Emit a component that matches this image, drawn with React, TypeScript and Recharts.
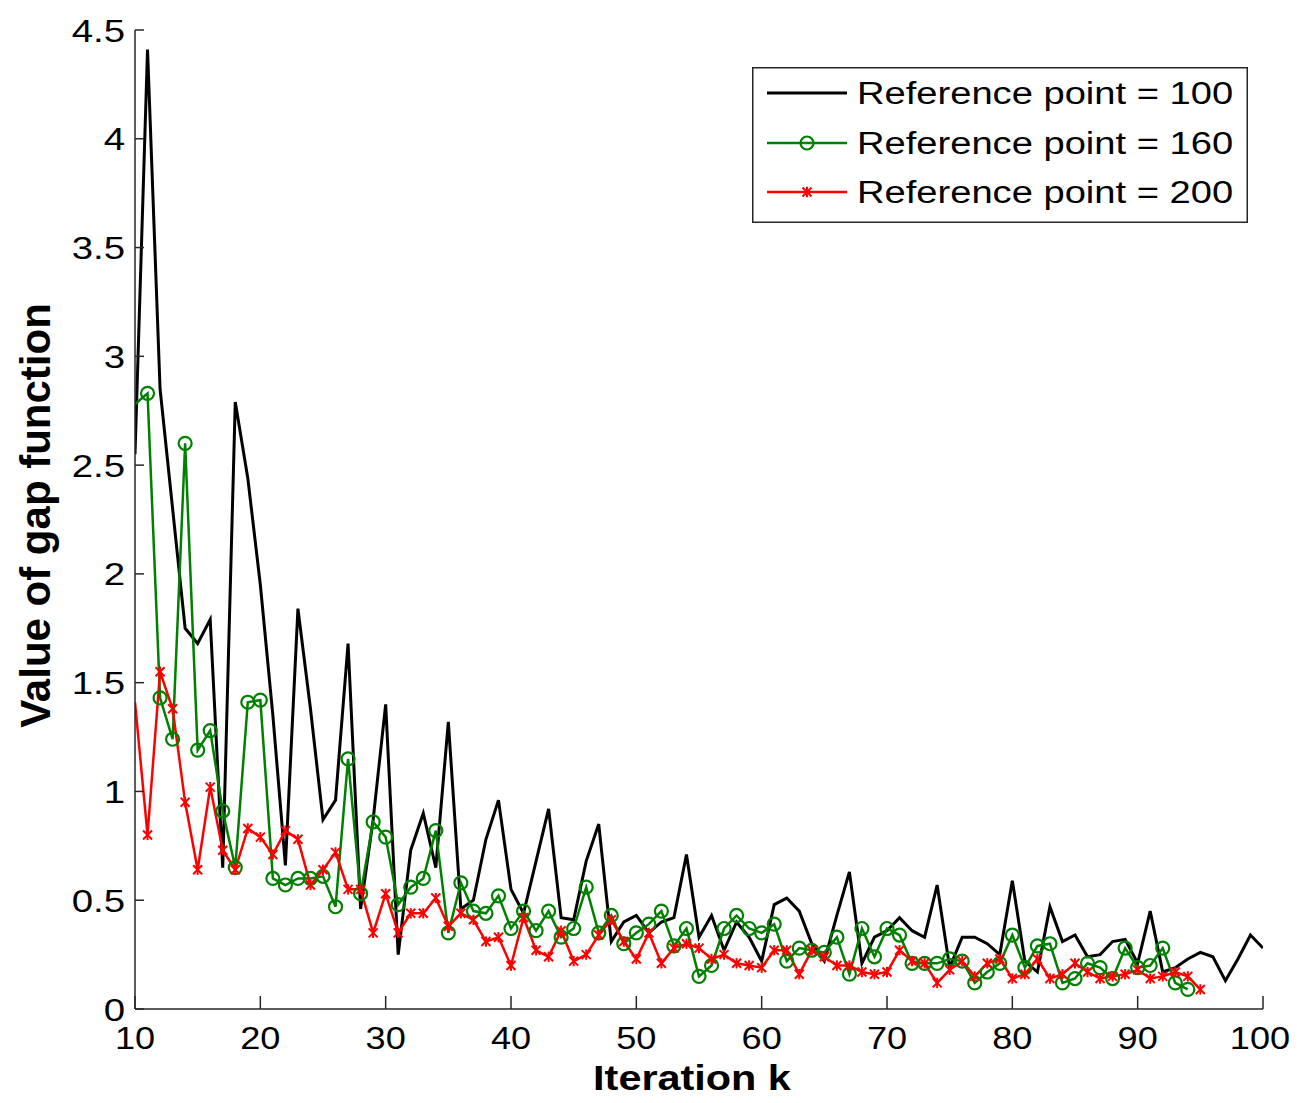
import React from 'react';
import { LineChart, Line, XAxis, YAxis, Legend } from 'recharts';

const iterations = [
  10, 11, 12, 13, 14, 15, 16, 17, 18, 19,
  20, 21, 22, 23, 24, 25, 26, 27, 28, 29,
  30, 31, 32, 33, 34, 35, 36, 37, 38, 39,
  40, 41, 42, 43, 44, 45, 46, 47, 48, 49,
  50, 51, 52, 53, 54, 55, 56, 57, 58, 59,
  60, 61, 62, 63, 64, 65, 66, 67, 68, 69,
  70, 71, 72, 73, 74, 75, 76, 77, 78, 79,
  80, 81, 82, 83, 84, 85, 86, 87, 88, 89,
  90, 91, 92, 93, 94, 95, 96, 97, 98, 99,
  100,
];

// Reference point = 100 (black)
const gap100 = [
  2.55, 4.41, 2.85, 2.30, 1.75, 1.68, 1.79, 0.65, 2.79, 2.44,
  1.95, 1.35, 0.66, 1.84, 1.38, 0.87, 0.96, 1.68, 0.46, 0.87,
  1.40, 0.25, 0.73, 0.90, 0.65, 1.32, 0.46, 0.50, 0.78, 0.96,
  0.55, 0.44, 0.68, 0.92, 0.42, 0.41, 0.68, 0.85, 0.31, 0.40,
  0.43, 0.35, 0.40, 0.42, 0.71, 0.33, 0.43, 0.27, 0.40, 0.33,
  0.22, 0.48, 0.51, 0.45, 0.30, 0.22, 0.43, 0.63, 0.21, 0.33,
  0.36, 0.42, 0.36, 0.33, 0.57, 0.19, 0.33, 0.33, 0.30, 0.25,
  0.59, 0.22, 0.17, 0.47, 0.31, 0.34, 0.24, 0.25, 0.31, 0.32,
  0.21, 0.45, 0.17, 0.19, 0.23, 0.26, 0.24, 0.13, 0.23, 0.34,
  0.28,
];

// Reference point = 160 (green, circles)
const gap160 = [
  2.78, 2.83, 1.43, 1.24, 2.60, 1.19, 1.28, 0.91, 0.65, 1.41,
  1.42, 0.60, 0.57, 0.60, 0.60, 0.61, 0.47, 1.15, 0.53, 0.86,
  0.79, 0.48, 0.56, 0.60, 0.82, 0.35, 0.58, 0.45, 0.44, 0.52,
  0.37, 0.45, 0.36, 0.45, 0.33, 0.37, 0.56, 0.35, 0.43, 0.30,
  0.35, 0.39, 0.45, 0.29, 0.37, 0.15, 0.20, 0.37, 0.43, 0.37,
  0.35, 0.39, 0.22, 0.28, 0.27, 0.26, 0.33, 0.16, 0.37, 0.24,
  0.37, 0.34, 0.21, 0.21, 0.21, 0.23, 0.22, 0.12, 0.17, 0.21,
  0.34, 0.19, 0.29, 0.30, 0.12, 0.14, 0.21, 0.19, 0.14, 0.28,
  0.19, 0.20, 0.28, 0.12, 0.09,
];

// Reference point = 200 (red, stars)
const gap200 = [
  1.41, 0.80, 1.55, 1.38, 0.95, 0.64, 1.02, 0.73, 0.64, 0.83,
  0.79, 0.71, 0.82, 0.78, 0.57, 0.64, 0.72, 0.55, 0.55, 0.35,
  0.53, 0.35, 0.44, 0.44, 0.51, 0.38, 0.44, 0.41, 0.31, 0.33,
  0.20, 0.42, 0.27, 0.24, 0.36, 0.22, 0.25, 0.34, 0.41, 0.31,
  0.23, 0.35, 0.21, 0.28, 0.30, 0.28, 0.23, 0.25, 0.21, 0.20,
  0.19, 0.27, 0.27, 0.16, 0.27, 0.24, 0.20, 0.20, 0.17, 0.16,
  0.17, 0.27, 0.22, 0.21, 0.12, 0.18, 0.22, 0.15, 0.21, 0.23,
  0.14, 0.16, 0.23, 0.14, 0.16, 0.21, 0.17, 0.14, 0.15, 0.16,
  0.18, 0.14, 0.15, 0.17, 0.15, 0.09,
];

const xTicks = [10, 20, 30, 40, 50, 60, 70, 80, 90, 100];
const yTicks = [0, 0.5, 1, 1.5, 2, 2.5, 3, 3.5, 4, 4.5];
const seriesNames = ['Reference point = 100', 'Reference point = 160', 'Reference point = 200'];
const xTitle = 'Iteration k';
const yTitle = 'Value of gap function';

const data = iterations.map((k, i) => ({
  k,
  ref100: gap100[i] ?? null,
  ref160: gap160[i] ?? null,
  ref200: gap200[i] ?? null,
}));

const FONT = '"Liberation Sans", Arial, Helvetica, sans-serif';
const AX = '#262626';
const BLACK = '#000000';
const GREEN = '#008000';
const RED = '#ff0000';

const W = 1289;
const H = 1095;
const MARGIN = { top: 22, right: 34, bottom: 0, left: 0 };

const XTick = (props: any) => {
  const { x, y, payload, index } = props;
  const shift = index === xTicks.length - 1 ? -3 : 0;
  return (
    <g transform={`translate(${x + shift},${y}) scale(1.13,1)`}>
      <text x={0} y={0} textAnchor="middle" fontFamily={FONT} fontSize={32} fill="#000">
        {payload.value}
      </text>
    </g>
  );
};

const YTick = (props: any) => {
  const { x, y, payload } = props;
  return (
    <g transform={`translate(${x},${y}) scale(1.2,1)`}>
      <text x={0} y={0} dy="0.36em" textAnchor="end" fontFamily={FONT} fontSize={32} fill="#000">
        {payload.value}
      </text>
    </g>
  );
};

const XTitle = (props: any) => {
  const vb = props.viewBox || { x: 127, y: 1001, width: 1128, height: 94 };
  const cx = vb.x + vb.width / 2 - 7;
  const by = 1082;
  return (
    <g transform={`translate(${cx},${by}) scale(1.15,1)`}>
      <text x={0} y={0} textAnchor="middle" fontFamily={FONT} fontWeight="bold" fontSize={36} fill="#000">
        {xTitle}
      </text>
    </g>
  );
};

const YTitle = (props: any) => {
  const vb = props.viewBox || { x: 0, y: 22, width: 127, height: 979 };
  const cy = vb.y + vb.height / 2 - 4;
  const bx = 42;
  return (
    <text
      x={bx}
      y={cy}
      transform={`rotate(-90, ${bx}, ${cy})`}
      textAnchor="middle"
      fontFamily={FONT}
      fontWeight="bold"
      fontSize={42}
      fill="#000"
    >
      {yTitle}
    </text>
  );
};

const GreenDot = (props: any) => {
  const { cx, cy, index, payload } = props;
  if (cx == null || cy == null || payload == null || payload.ref160 == null || payload.k === iterations[0]) {
    return <g key={`gd-${index}`} />;
  }
  return <circle key={`gd-${index}`} cx={cx} cy={cy} r={6.5} stroke={GREEN} strokeWidth={2.2} fill="none" />;
};

const StarShape = ({ cx, cy, color, s }: any) => (
  <g stroke={color} strokeWidth={2}>
    <line x1={cx - s} y1={cy - s} x2={cx + s} y2={cy + s} />
    <line x1={cx - s} y1={cy + s} x2={cx + s} y2={cy - s} />
    <line x1={cx} y1={cy - s * 1.15} x2={cx} y2={cy + s * 1.15} />
  </g>
);

const RedDot = (props: any) => {
  const { cx, cy, index, payload } = props;
  if (cx == null || cy == null || payload == null || payload.ref200 == null || payload.k === iterations[0]) {
    return <g key={`rd-${index}`} />;
  }
  return (
    <g key={`rd-${index}`}>
      <StarShape cx={cx} cy={cy} color={RED} s={4.5} />
    </g>
  );
};

const LegendBox = () => {
  const rows = [26, 76, 125];
  const colors = [BLACK, GREEN, RED];
  return (
    <div style={{ width: 496, height: 156, background: '#fff', boxSizing: 'border-box' }}>
      <svg width={496} height={156} style={{ display: 'block' }}>
        <rect x={0.75} y={0.75} width={494.5} height={154.5} fill="#fff" stroke={AX} strokeWidth={1.5} />
        {seriesNames.map((name, i) => (
          <g key={name}>
            <line x1={15} y1={rows[i]} x2={95} y2={rows[i]} stroke={colors[i]} strokeWidth={i === 0 ? 3 : 2.5} />
            {i === 1 && <circle cx={55} cy={rows[i]} r={6.5} stroke={GREEN} strokeWidth={2.2} fill="none" />}
            {i === 2 && <StarShape cx={55} cy={rows[i]} color={RED} s={4.5} />}
            <g transform={`translate(105,${rows[i]}) scale(1.23,1)`}>
              <text x={0} y={0} dy="0.36em" fontFamily={FONT} fontSize={31} fill="#000">
                {name}
              </text>
            </g>
          </g>
        ))}
      </svg>
    </div>
  );
};

export default function App() {
  return (
    <div style={{ width: W, height: H, fontFamily: FONT, background: '#fff', marginBottom: -8 }}>
      <style>{'html,body{overflow:hidden} .recharts-wrapper,.recharts-surface{overflow:visible !important}'}</style>
      <LineChart width={W} height={H} data={data} margin={MARGIN}>
        <XAxis
          dataKey="k"
          type="number"
          domain={[10, 100]}
          ticks={xTicks}
          interval={0}
          allowDataOverflow
          height={94}
          tickSize={-13}
          tickMargin={53}
          tick={<XTick />}
          axisLine={{ stroke: AX, strokeWidth: 1.5 }}
          tickLine={{ stroke: AX, strokeWidth: 1.5 }}
          label={<XTitle />}
        />
        <XAxis
          xAxisId="top"
          orientation="top"
          dataKey="k"
          type="number"
          domain={[10, 100]}
          ticks={xTicks}
          interval={0}
          allowDataOverflow
          height={0}
          tickSize={-10}
          tick={false}
          axisLine={{ stroke: AX, strokeWidth: 1.5 }}
          tickLine={{ stroke: AX, strokeWidth: 1.5 }}
        />
        <YAxis
          type="number"
          domain={[0, 4.5]}
          ticks={yTicks}
          interval={0}
          allowDataOverflow
          width={127}
          tickSize={-9}
          tickMargin={19}
          tick={<YTick />}
          axisLine={{ stroke: AX, strokeWidth: 1.5 }}
          tickLine={{ stroke: AX, strokeWidth: 1.5 }}
          label={<YTitle />}
        />
        <YAxis
          yAxisId="right"
          orientation="right"
          type="number"
          domain={[0, 4.5]}
          ticks={yTicks}
          interval={0}
          allowDataOverflow
          width={0}
          tickSize={-10}
          tick={false}
          axisLine={{ stroke: AX, strokeWidth: 1.5 }}
          tickLine={{ stroke: AX, strokeWidth: 1.5 }}
        />
        <Legend
          layout="horizontal"
          verticalAlign="middle"
          align="center"
          content={() => <LegendBox />}
          wrapperStyle={{ left: 744, top: 59, width: 496, height: 156 }}
        />
        <Line
          type="linear"
          dataKey="ref100"
          name={seriesNames[0]}
          stroke={BLACK}
          strokeWidth={3}
          dot={false}
          activeDot={false}
          isAnimationActive={false}
        />
        <Line
          type="linear"
          dataKey="ref160"
          name={seriesNames[1]}
          stroke={GREEN}
          strokeWidth={2.5}
          dot={GreenDot}
          activeDot={false}
          isAnimationActive={false}
        />
        <Line
          type="linear"
          dataKey="ref200"
          name={seriesNames[2]}
          stroke={RED}
          strokeWidth={2.5}
          dot={RedDot}
          activeDot={false}
          isAnimationActive={false}
        />
      </LineChart>
    </div>
  );
}
